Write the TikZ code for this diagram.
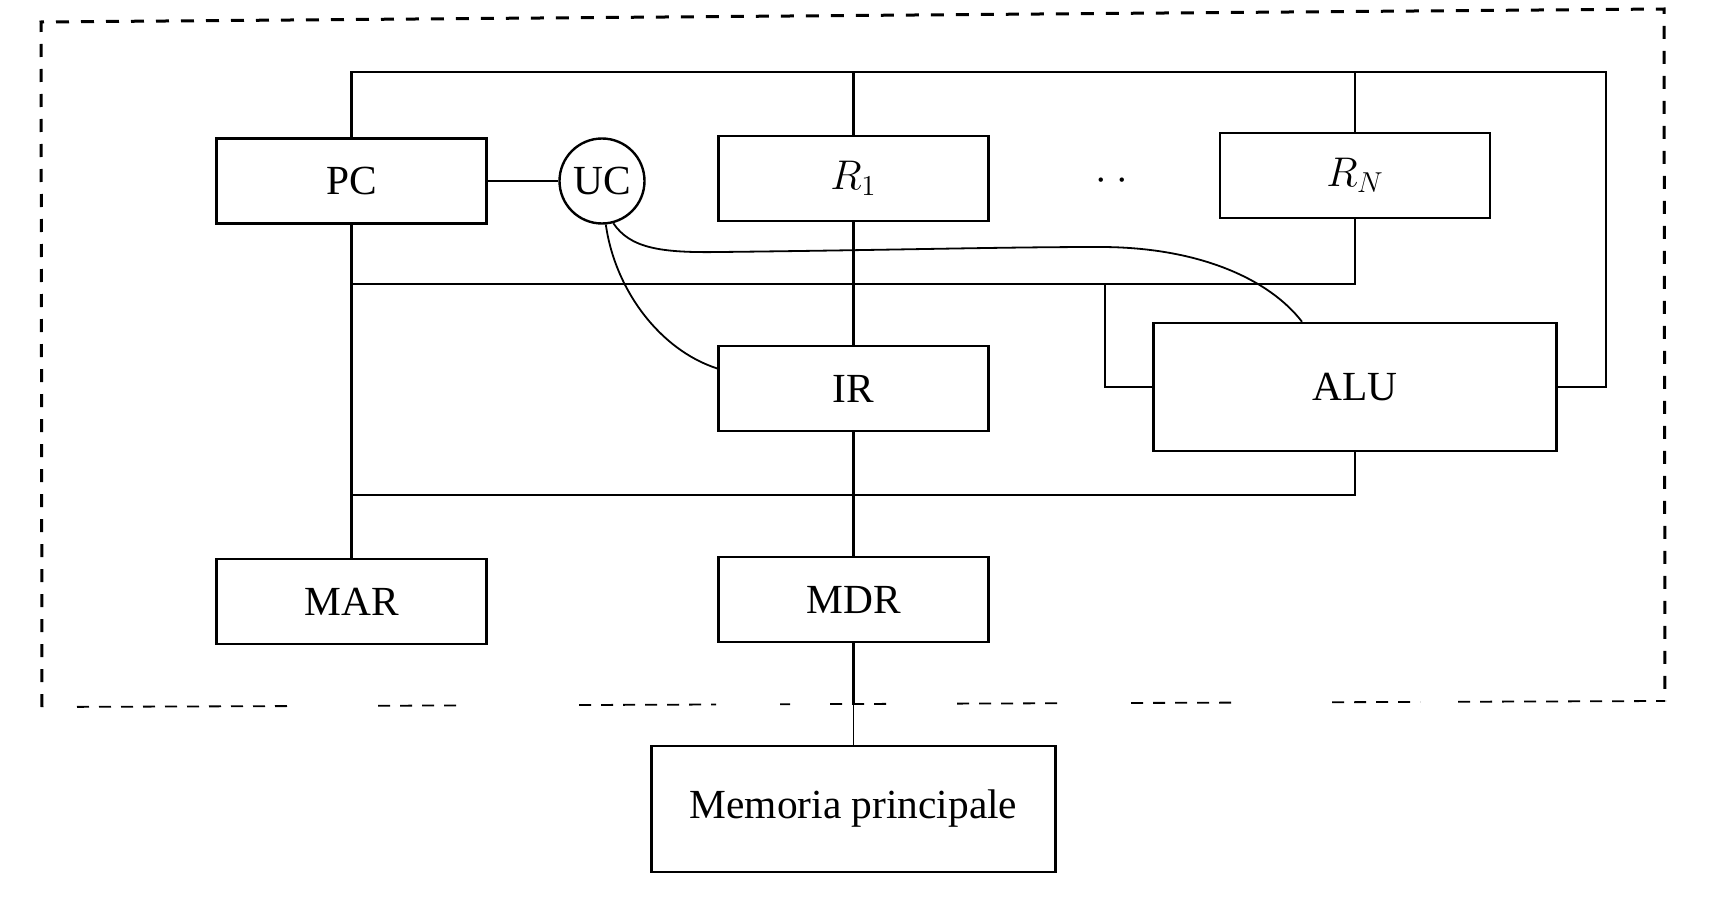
\documentclass[tikz,border=0pt]{standalone}
\usepackage{fontspec}
\setmainfont{Liberation Serif}
\usetikzlibrary{calc}
\tikzset{
  box/.style={draw, line width=1.2pt, minimum width=135pt, minimum height=42.5pt, inner sep=0pt, font=\fontsize{20.7}{25}\selectfont},
  ucnode/.style={draw, circle, line width=1.2pt, minimum size=42.5pt, inner sep=0pt, font=\fontsize{20.7}{25}\selectfont},
  wire/.style={line width=1.2pt},
  thinwire/.style={line width=0.7pt},
  ctrl/.style={line width=0.9pt},
  border/.style={line width=1.5pt, dash pattern=on 6.5pt off 6pt},
  borderlow/.style={line width=0.9pt, dash pattern=on 6pt off 5pt},
}
\begin{document}
\begin{tikzpicture}[x=0.5pt, y=-0.5pt]
\useasboundingbox (0,0) rectangle (1720,904);
% nodes
\node[box] (pc) at (351.5,181) {PC};
\node[ucnode] (uc) at (602,181) {UC};
\node[box] (r1) at (853.5,178.5) {$R_1$};
\node[font=\fontsize{20.7}{25}\selectfont] (dots) at (1112,181) {$\cdot\hspace{5pt}\cdot$};
\node[box] (rn) at (1355,175.5) {$R_N$};
\node[box, minimum width=201.5pt, minimum height=64pt] (alu) at (1355,387) {ALU};
\node[box] (ir) at (853.5,388.5) {IR};
\node[box] (mar) at (351.5,601.5) {MAR};
\node[box] (mdr) at (853.5,599.5) {MDR};
\node[box, minimum width=202pt, minimum height=63pt] (mem) at (853.5,809) {Memoria principale};
% bus coordinates
\coordinate (tA) at (351.5,72);
\coordinate (tR) at (1606,72);
\coordinate (mA) at (351.5,284);
\coordinate (aj) at (1105,284);
\coordinate (lA) at (351.5,495);
\coordinate (bd) at (853.5,703);
% buses and links
\draw[wire] (pc.north) -- (tA) -- (tR) |- (alu.east);
\draw[wire] (r1.north) -- (r1.north |- tA);
\draw[wire] (rn.north) -- (rn.north |- tA);
\draw[wire] (pc.south) -- (mar.north);
\draw[wire] (rn.south) -- (rn.south |- mA) -- (mA);
\draw[wire] (aj) |- (alu.west);
\draw[wire] (alu.south) -- (alu.south |- lA) -- (lA);
\draw[wire] (r1.south) -- (ir.north);
\draw[wire] (ir.south) -- (mdr.north);
\draw[wire] (mdr.south) -- (bd);
\draw[thinwire] (bd) -- (mem.north);
\draw[wire] (pc.east) -- (uc.west);
% control curves
\draw[ctrl] (uc.-85) .. controls (615,290) and (660,350) .. ($(ir.west)+(0,-20)$);
\draw[ctrl] (uc.-75) .. controls (630,248) and (660,253) .. (720,252)
  .. controls (900,250) and (1000,247) .. (1100,247)
  .. controls (1200,247) and (1270,280) .. ($(alu.north)+(-53,0)$);
% dashed CPU border
\draw[border] (42,707) -- (41,22) -- (1664,9) -- (1665,701);
\foreach \a/\b in {77/288, 378/463, 579/716, 780/790, 830/890, 957/1066, 1131/1238, 1332/1420, 1458/1665}{
  \draw[borderlow] (\a,{707-6*(\a-42)/1623}) -- (\b,{707-6*(\b-42)/1623});
}
\end{tikzpicture}
\end{document}
